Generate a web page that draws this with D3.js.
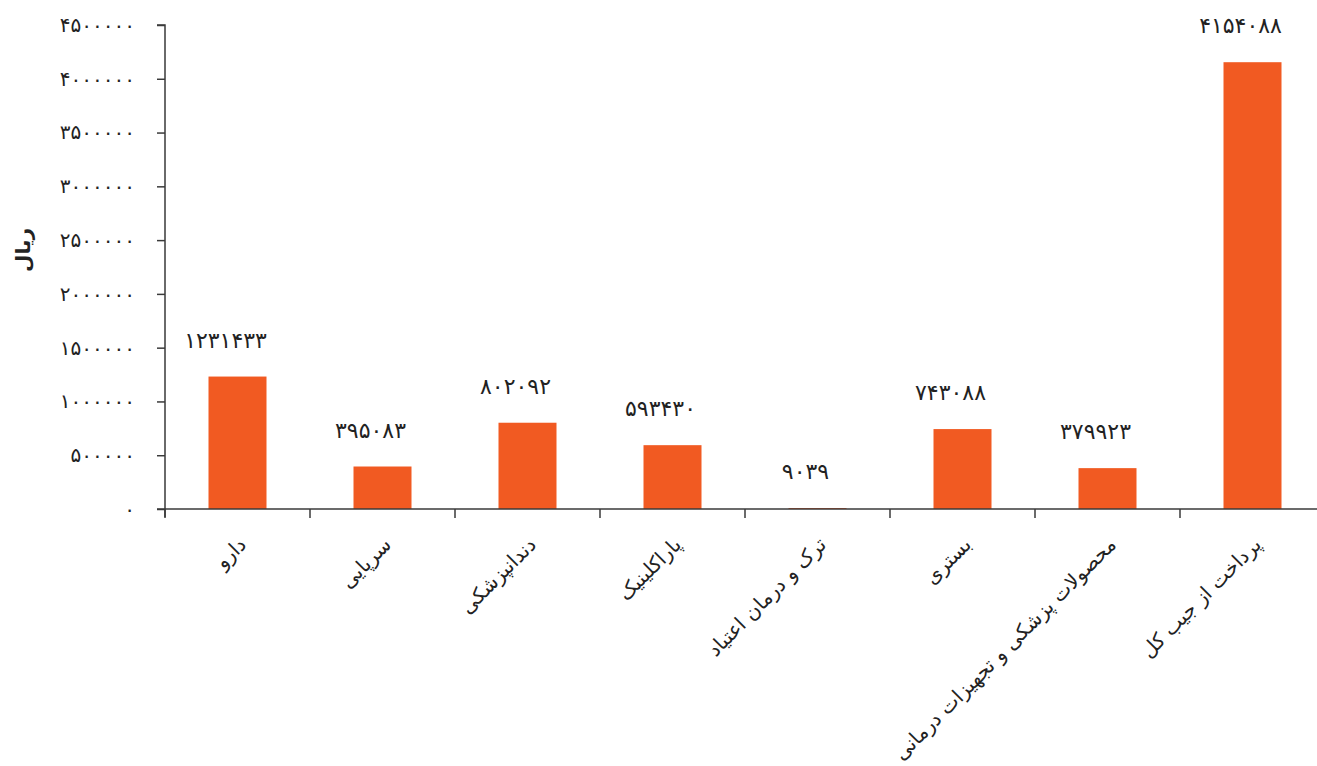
<!DOCTYPE html>
<html>
<head>
<meta charset="utf-8">
<script src="https://cdn.jsdelivr.net/npm/d3@7"></script>
<style>
  html, body { margin: 0; padding: 0; background: #fff; }
  svg { display: block; font-family: "DejaVu Sans", "Noto Sans", sans-serif; }
</style>
</head>
<body>
<svg id="chart" width="1317" height="766"></svg>
<script>
const categories = [
  "دارو",
  "سرپایی",
  "دندانپزشکی",
  "پاراکلینیک",
  "ترک و درمان اعتیاد",
  "بستری",
  "محصولات پزشکی و تجهیزات درمانی",
  "پرداخت از جیب کل"
];
const values = [1231433, 395083, 802092, 593430, 9039, 743088, 379923, 4154088];
const yTicks = [0, 500000, 1000000, 1500000, 2000000, 2500000, 3000000, 3500000, 4000000, 4500000];
const yLabel = "ریال";

(function () {
const fa = n => String(n).replace(/\d/g, d => "۰۱۲۳۴۵۶۷۸۹"[d]);

const svg = d3.select("#chart");
const mLeft = 165, mRight = 1325, mTop = 25, mBottom = 509;

const x = d3.scaleBand().domain(categories).range([mLeft, mRight]).paddingInner(0.6).paddingOuter(0.3);
const y = d3.scaleLinear().domain([0, 4500000]).range([mBottom, mTop]);

const axisColor = "#3a3a3a";

// bars
svg.append("g").selectAll("rect").data(values).join("rect")
  .attr("x", (d, i) => x(categories[i]))
  .attr("width", x.bandwidth())
  .attr("y", d => y(d))
  .attr("height", d => mBottom - y(d))
  .attr("fill", "#F15A22");

// value labels
svg.append("g").selectAll("text").data(values).join("text")
  .attr("x", (d, i) => x(categories[i]) + x.bandwidth() / 2 - 12)
  .attr("y", d => y(d) - 35)
  .attr("text-anchor", "middle")
  .attr("dominant-baseline", "middle")
  .attr("font-size", 22)
  .attr("fill", "#222")
  .text(d => fa(d));

// y axis
const yAxis = svg.append("g").attr("transform", `translate(${mLeft},0)`)
  .call(d3.axisLeft(y).tickValues(yTicks).tickSize(8).tickPadding(22).tickFormat(fa));
yAxis.select(".domain").attr("stroke", axisColor).attr("stroke-width", 1.5).attr("d", `M-8,${mTop}H0V${mBottom + 8}`);
yAxis.selectAll(".tick line").attr("stroke", axisColor).attr("stroke-width", 1.5);
yAxis.selectAll(".tick text").attr("font-size", 20).attr("fill", "#222").attr("font-family", "DejaVu Sans");

// x axis
const xAxisG = svg.append("g").attr("transform", `translate(0,${mBottom})`);
xAxisG.append("line").attr("x1", mLeft - 8).attr("x2", mRight).attr("y1", 0).attr("y2", 0)
  .attr("stroke", axisColor).attr("stroke-width", 1.5);
xAxisG.selectAll("line.tk").data(categories).join("line").attr("class", "tk")
  .attr("x1", c => x(c) - x.step() * 0.3).attr("x2", c => x(c) - x.step() * 0.3)
  .attr("y1", 0).attr("y2", 9).attr("stroke", axisColor).attr("stroke-width", 1.5);

// category labels
xAxisG.selectAll("text").data(categories).join("text")
  .attr("transform", c => `translate(${x(c) + x.bandwidth() / 2 + 6},${33}) rotate(-45)`)
  .attr("text-anchor", "end")
  .attr("dominant-baseline", "middle")
  .attr("font-size", 20)
  .attr("fill", "#222")
  .text(c => c);

// y label
svg.append("text")
  .attr("transform", `translate(24,250) rotate(-90)`)
  .attr("text-anchor", "middle")
  .attr("dominant-baseline", "middle")
  .attr("font-size", 20)
  .attr("font-weight", "bold")
  .attr("fill", "#222")
  .text(yLabel);
})();
</script>
</body>
</html>
